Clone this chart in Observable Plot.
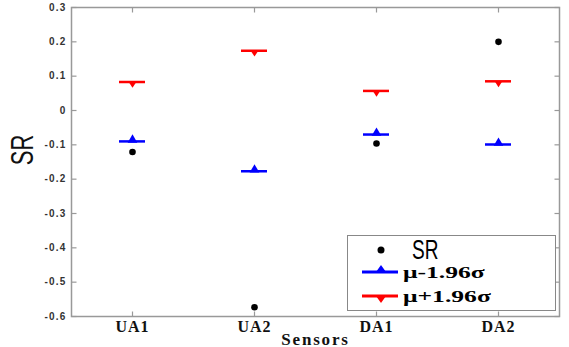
<!DOCTYPE html>
<html>
<head>
<meta charset="utf-8">
<script src="https://cdn.jsdelivr.net/npm/d3@7"></script>
<script src="https://cdn.jsdelivr.net/npm/@observablehq/plot@0.6"></script>
<style>
  html, body { margin: 0; padding: 0; background: #fff; }
  #wrap { position: relative; width: 569px; height: 347px; overflow: hidden; }
  g[aria-label="y-axis tick label"] text { letter-spacing: 1.2px; }
  g[aria-label="x-axis tick label"] text { letter-spacing: 1px; }
  g[aria-label="text"] text { letter-spacing: 1.8px; }
  #legend { position: absolute; left: 347px; top: 235px; width: 209px; height: 76px;
            border: 1.5px solid #888; background: #fff; box-sizing: border-box; }
  #legend svg { position: absolute; left: 0; top: 0; }
  #legend .t { position: absolute; white-space: nowrap; line-height: 1; transform-origin: 0 50%; }
  #legend .sr { font-family: "Liberation Sans", Arial, sans-serif; font-size: 28px; transform: translateY(-50%) scaleX(0.68); }
  #legend .mu { font-family: "Liberation Serif", "Times New Roman", serif; font-weight: bold; font-size: 16px; transform: translateY(-50%) scaleX(1.6); }
</style>
</head>
<body>
<div id="wrap"></div>
<script>
const categories = ["UA1", "UA2", "DA1", "DA2"];
const srValues = [-0.121, -0.573, -0.096, 0.200];
const lowerValues = [-0.090, -0.177, -0.070, -0.099];
const upperValues = [0.083, 0.174, 0.057, 0.085];
const yTicks = [0.3, 0.2, 0.1, 0, -0.1, -0.2, -0.3, -0.4, -0.5, -0.6];
const legendLabels = ["SR", "μ-1.96σ", "μ+1.96σ"];
const colors = { sr: "#000000", lower: "#0000ff", upper: "#ff0000" };

const rows = categories.map((c, i) => ({ cat: c, sr: srValues[i], lower: lowerValues[i], upper: upperValues[i] }));

const triDown = {
  draw(context, size) {
    const h = Math.sqrt(size) * 0.6;
    context.moveTo(-h, -h * 0.55);
    context.lineTo(h, -h * 0.55);
    context.lineTo(0, h * 1.0);
    context.closePath();
  }
};
// inward tick symbols (fixed 5px length)
const tickSym = (dx, dy) => ({ draw(context) { context.moveTo(0, 0); context.lineTo(dx, dy); } });

const chart = Plot.plot({
  width: 569,
  height: 347,
  marginLeft: 71,
  marginRight: 10,
  marginTop: 7,
  marginBottom: 31,
  style: { background: "#fff", overflow: "visible" },
  x: { type: "band", domain: categories, padding: 0 },
  y: { domain: [-0.6, 0.3] },
  marks: [
    Plot.frame({ stroke: "#999", strokeWidth: 1.5 }),
    Plot.axisY({ anchor: "left", ticks: yTicks, tickSize: 0, tickPadding: 5, tickFormat: d => String(d),
                 fontSize: 10, fontFamily: "Liberation Sans, Arial, sans-serif", fontWeight: "bold", fill: "#333", label: null }),
    Plot.axisX({ anchor: "bottom", tickSize: 0, tickPadding: 4, fontSize: 16, fontWeight: "bold",
                 fontFamily: "Liberation Serif, Times New Roman, serif", fill: "#111", label: null }),
    Plot.dot(yTicks, { y: d => d, frameAnchor: "left", symbol: tickSym(5, 0), stroke: "#999", strokeWidth: 1.2 }),
    Plot.dot(yTicks, { y: d => d, frameAnchor: "right", symbol: tickSym(-5, 0), stroke: "#999", strokeWidth: 1.2 }),
    Plot.dot(categories, { x: d => d, frameAnchor: "bottom", symbol: tickSym(0, -5), stroke: "#999", strokeWidth: 1.2 }),
    Plot.dot(categories, { x: d => d, frameAnchor: "top", symbol: tickSym(0, 5), stroke: "#999", strokeWidth: 1.2 }),
    Plot.text(["Sensors"], { frameAnchor: "bottom", dy: 28, text: d => d, fontSize: 17, fontWeight: "bold",
                 fontFamily: "Liberation Serif, Times New Roman, serif", fill: "#111", lineAnchor: "bottom" }),
    Plot.tickY(rows, { x: "cat", y: "upper", stroke: colors.upper, strokeWidth: 2.5, insetLeft: 48, insetRight: 48 }),
    Plot.dot(rows, { x: "cat", y: "upper", symbol: triDown, fill: colors.upper, r: 3.6, dy: 2 }),
    Plot.tickY(rows, { x: "cat", y: "lower", stroke: colors.lower, strokeWidth: 2.5, insetLeft: 48, insetRight: 48 }),
    Plot.dot(rows, { x: "cat", y: "lower", symbol: "triangle", fill: colors.lower, r: 3.6, dy: -1.5 }),
    Plot.dot(rows, { x: "cat", y: "sr", fill: colors.sr, r: 3.3 })
  ]
});

const wrap = document.getElementById("wrap");
wrap.appendChild(chart);

// y-axis title
const ns = "http://www.w3.org/2000/svg";
const yt = document.createElementNS(ns, "text");
yt.setAttribute("transform", "translate(33,150) rotate(-90) scale(1,1.4)");
yt.setAttribute("text-anchor", "middle");
yt.setAttribute("font-family", "Liberation Sans, Arial, sans-serif");
yt.setAttribute("font-size", "22");
yt.setAttribute("fill", "#111");
yt.textContent = "SR";
chart.appendChild(yt);

// legend
const lg = document.createElement("div");
lg.id = "legend";
lg.innerHTML = `
<svg width="209" height="76">
  <circle cx="33" cy="14" r="3.5" fill="${colors.sr}"/>
  <line x1="14" x2="50" y1="36" y2="36" stroke="${colors.lower}" stroke-width="3"/>
  <path d="M28,36 L38,36 L33,29 Z" fill="${colors.lower}"/>
  <line x1="14" x2="50" y1="60" y2="60" stroke="${colors.upper}" stroke-width="3"/>
  <path d="M28,60 L38,60 L33,67 Z" fill="${colors.upper}"/>
</svg>
<span class="t sr" style="left:64px; top:14px">${legendLabels[0]}</span>
<span class="t mu" style="left:55px; top:37px">${legendLabels[1]}</span>
<span class="t mu" style="left:55px; top:61px">${legendLabels[2]}</span>
`;
wrap.appendChild(lg);
</script>
</body>
</html>
